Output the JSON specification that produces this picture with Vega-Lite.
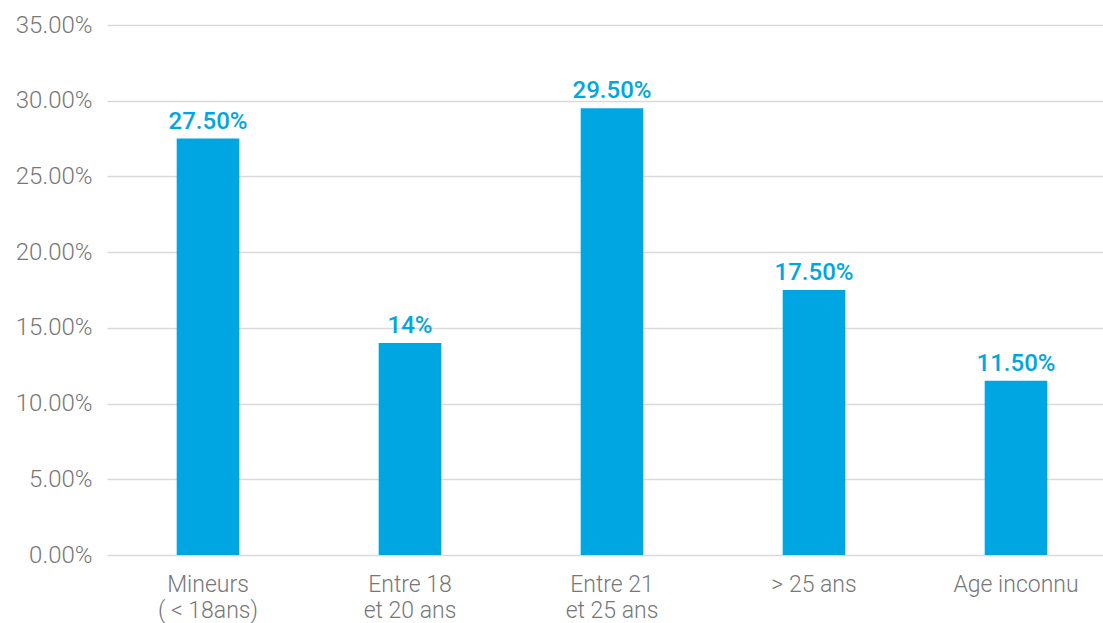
{
  "$schema": "https://vega.github.io/schema/vega-lite/v6.json",
  "width": 996,
  "height": 530,
  "autosize": {"type": "none"},
  "padding": {"left": 107, "top": 25, "right": 0, "bottom": 68},
  "background": "white",
  "config": {
    "view": {"stroke": null},
    "font": "Roboto"
  },
  "data": {
    "values": [
      {"category": "Mineurs|( <  18ans)", "value": 0.275, "label": "27.50%"},
      {"category": "Entre 18|et 20 ans", "value": 0.14, "label": "14%"},
      {"category": "Entre 21|et 25 ans", "value": 0.295, "label": "29.50%"},
      {"category": "> 25 ans", "value": 0.175, "label": "17.50%"},
      {"category": "Age inconnu", "value": 0.115, "label": "11.50%"}
    ]
  },
  "encoding": {
    "x": {
      "field": "category",
      "type": "nominal",
      "sort": null,
      "scale": {"range": [0, 1010], "paddingInner": 0.69, "paddingOuter": 0.345},
      "axis": {
        "title": null,
        "labelAngle": 0,
        "labelExpr": "split(datum.label, '|')",
        "labelFontSize": 23,
        "labelFontWeight": 300,
        "labelColor": "#777777",
        "labelPadding": 18,
        "labelLineHeight": 26,
        "ticks": false,
        "domain": false,
        "grid": false
      }
    },
    "y": {
      "field": "value",
      "type": "quantitative",
      "scale": {"domain": [0, 0.35], "nice": false},
      "axis": {
        "title": null,
        "format": ".2%",
        "values": [0, 0.05, 0.1, 0.15, 0.2, 0.25, 0.3, 0.35],
        "labelFontSize": 24,
        "labelFontWeight": 300,
        "labelColor": "#777777",
        "labelPadding": 15,
        "ticks": false,
        "domain": false,
        "gridColor": "#d9d9d9",
        "gridWidth": 1.5
      }
    }
  },
  "layer": [
    {"mark": {"type": "bar", "color": "#00a6e2"}},
    {
      "mark": {"type": "text", "color": "#00a6e2", "fontSize": 24, "fontWeight": 500, "baseline": "alphabetic", "dy": -10},
      "encoding": {"text": {"field": "label"}}
    }
  ]
}
